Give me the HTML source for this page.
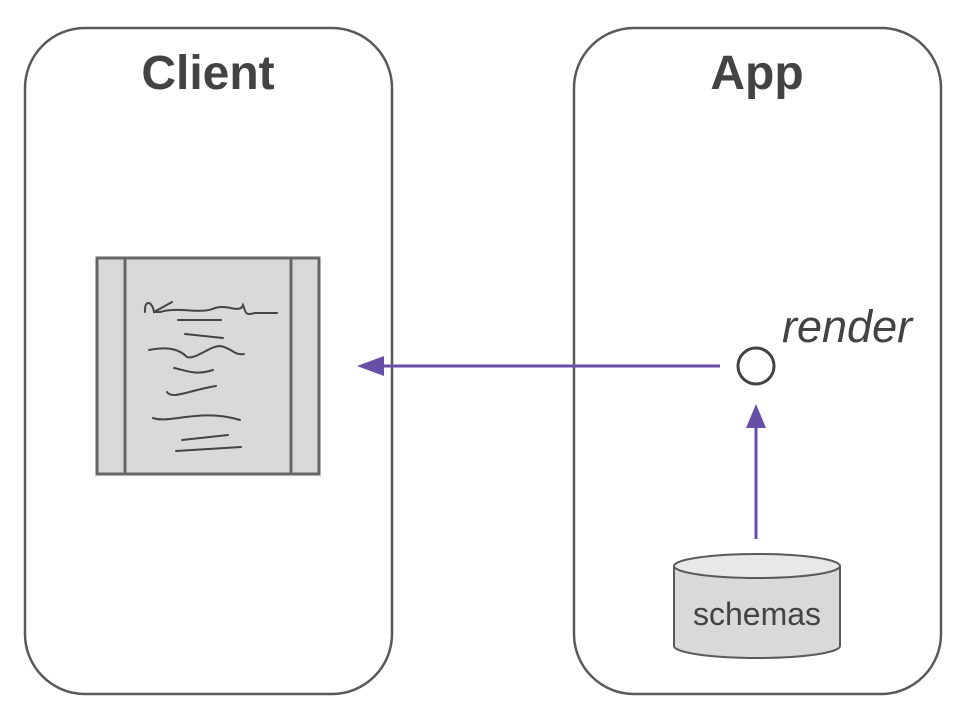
<!DOCTYPE html>
<html><head><style>body{margin:0;background:#fff}</style></head><body>
<svg width="960" height="720" xmlns="http://www.w3.org/2000/svg" font-family="Liberation Sans, sans-serif">
<rect x="25" y="28" width="367" height="666" rx="60" fill="#fff" stroke="#595959" stroke-width="2.5"/>
<rect x="574" y="28" width="367" height="666" rx="60" fill="#fff" stroke="#595959" stroke-width="2.5"/>
<text x="208" y="89" text-anchor="middle" font-size="48" font-weight="bold" fill="#434343">Client</text>
<text x="757" y="89" text-anchor="middle" font-size="48" font-weight="bold" fill="#434343">App</text>
<rect x="97" y="258" width="222" height="216" fill="#d9d9d9" stroke="#666" stroke-width="3"/>
<line x1="125" y1="258" x2="125" y2="474" stroke="#666" stroke-width="3"/>
<line x1="291" y1="258" x2="291" y2="474" stroke="#666" stroke-width="3"/>
<g fill="none" stroke="#444" stroke-width="2" stroke-linecap="round">
<path d="M145,312 C144,300 152,300 154,312 L172,302 M154,312 L160,312 C180,306 200,315 215,308 C228,304 240,314 243,305 C246,312 244,316 255,313 L277,313"/>
<line x1="178" y1="320" x2="221" y2="320"/>
<line x1="185" y1="334" x2="223" y2="338"/>
<path d="M149,350 C170,346 180,350 187,357 C195,360 210,346 220,346 C232,348 235,356 244,354"/>
<path d="M174,368 C185,370 195,376 213,370"/>
<path d="M167,392 C172,400 190,390 216,386"/>
<path d="M153,418 C170,424 200,408 240,420"/>
<path d="M182,440 L228,435"/>
<path d="M176,451 L241,447"/>
</g>
<line x1="720" y1="366" x2="375" y2="366" stroke="#674ea7" stroke-width="3"/>
<polygon points="357,366 384,356 384,376" fill="#674ea7"/>
<circle cx="756" cy="366" r="18" fill="#fff" stroke="#434343" stroke-width="3"/>
<text x="782" y="342" font-size="45" font-style="italic" fill="#434343">render</text>
<line x1="756" y1="539" x2="756" y2="425" stroke="#674ea7" stroke-width="3"/>
<polygon points="756,404 746,428 766,428" fill="#674ea7"/>
<path d="M674,566 L674,646 A83,12 0 0 0 840,646 L840,566" fill="#d9d9d9" stroke="#595959" stroke-width="2"/>
<ellipse cx="757" cy="566" rx="83" ry="12" fill="#e8e8e8" stroke="#595959" stroke-width="2"/>
<text x="757" y="625" text-anchor="middle" font-size="32" fill="#434343">schemas</text>
</svg>
</body></html>
